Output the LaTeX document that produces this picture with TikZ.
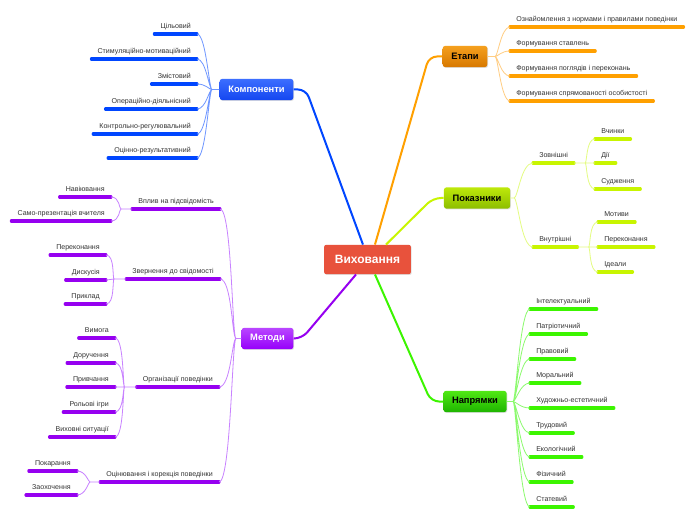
\documentclass[tikz,border=0pt]{standalone}
\usepackage{fontspec}
\setmainfont{Liberation Sans}
\usetikzlibrary{shadows}

\definecolor{rootred}{RGB}{232,82,60}
\definecolor{ktop}{RGB}{60,110,255}
\definecolor{kbot}{RGB}{20,70,240}
\definecolor{etop}{RGB}{245,160,30}
\definecolor{ebot}{RGB}{215,120,0}
\definecolor{ptop}{RGB}{190,232,10}
\definecolor{pbot}{RGB}{140,190,0}
\definecolor{ntop}{RGB}{80,232,20}
\definecolor{nbot}{RGB}{30,180,0}
\definecolor{mtop}{RGB}{185,70,255}
\definecolor{mbot}{RGB}{150,0,250}
\definecolor{kbar}{RGB}{0,70,255}
\definecolor{ktwig}{RGB}{110,150,255}
\definecolor{ebar}{RGB}{255,160,0}
\definecolor{etwig}{RGB}{255,205,130}
\definecolor{pbar}{RGB}{200,245,0}
\definecolor{ptwig}{RGB}{228,252,130}
\definecolor{nbar}{RGB}{60,245,0}
\definecolor{ntwig}{RGB}{140,250,110}
\definecolor{mbar}{RGB}{150,0,240}
\definecolor{mtwig}{RGB}{200,130,255}

\tikzset{
  root/.style={fill=rootred, rounded corners=1.5pt, minimum width=65pt, minimum height=22pt,
    text=white, font=\fontsize{9}{10}\selectfont\bfseries,
    drop shadow={opacity=0.25, shadow xshift=0.6pt, shadow yshift=-0.6pt}},
  branch/.style n args={3}{top color=#1, bottom color=#2, text=#3, rounded corners=2pt,
    minimum height=16pt, inner xsep=6.5pt, font=\fontsize{7}{8}\selectfont\bfseries,
    drop shadow={opacity=0.25, shadow xshift=0.6pt, shadow yshift=-0.6pt}},
  bar/.style={draw=#1, line width=2.3pt, line cap=round},
  leaf/.style={inner xsep=4.5pt, inner ysep=2.2pt, text height=4pt, text depth=1.5pt,
    text=black!80, font=\fontsize{5.3}{6.2}\selectfont,
    append after command={(\tikzlastnode.south west) edge[bar=#1] (\tikzlastnode.south east)}},
  twig/.style={draw=#1, line width=0.6pt},
  trunk/.style={draw=#1, line width=1.5pt, rounded corners=6pt},
}

\begin{document}
\begin{tikzpicture}[x=0.75pt,y=0.75pt,yscale=-1,xscale=1]
        \fill[white] (0,0) rectangle (696,520);
        \useasboundingbox (0,0) rectangle (696,520);

        % Root
        \node[root] (vyh) at (367.5,259.5) {Виховання};

        % Branches
        \node[branch={ktop}{kbot}{white}] (komp) at (256.5,89.5) {Компоненти};
        \node[branch={etop}{ebot}{black}] (etapy) at (465,56.5) {Етапи};
        \node[branch={ptop}{pbot}{black}] (pokaz) at (477,198) {Показники};
        \node[branch={ntop}{nbot}{black}] (napr) at (475,401.5) {Напрямки};
        \node[branch={mtop}{mbot}{white}] (metody) at (267.5,338.5) {Методи};

        % Trunks
        \draw[trunk=kbar] ([xshift=-3.4pt]vyh.north) -- (306,89.5) -- (komp.east);
        \draw[trunk=ebar] ([xshift=5.6pt]vyh.north) -- (429,56.5) -- (etapy.west);
        \draw[trunk=pbar] ([xshift=13.9pt]vyh.north) -- (433,198) -- (pokaz.west);
        \draw[trunk=nbar] ([xshift=5.6pt]vyh.south) -- (431,401.5) -- (napr.west);
        \draw[trunk=mbar] ([xshift=-8.6pt]vyh.south) -- (302,338.5) -- (metody.east);

        % Компоненти
        \node[leaf=kbar, anchor=south east] (k1) at (197,34) {Цільовий};
        \node[leaf=kbar, anchor=south east] (k2) at (197,59) {Стимуляційно-мотиваційний};
        \node[leaf=kbar, anchor=south east] (k3) at (197,84) {Змістовий};
        \node[leaf=kbar, anchor=south east] (k4) at (197,109) {Операційно-діяльнісний};
        \node[leaf=kbar, anchor=south east] (k5) at (197,134) {Контрольно-регулювальний};
        \node[leaf=kbar, anchor=south east] (k6) at (197,158) {Оцінно-результативний};
        \coordinate (kj) at (212,89.5);
        \draw[twig=ktwig] (komp.west) -- (kj)
          (kj) .. controls +(-3,0) and +(9,0) .. (k1.south east)
          (kj) .. controls +(-3,0) and +(9,0) .. (k2.south east)
          (kj) .. controls +(-3,0) and +(9,0) .. (k3.south east)
          (kj) .. controls +(-3,0) and +(9,0) .. (k4.south east)
          (kj) .. controls +(-3,0) and +(9,0) .. (k5.south east)
          (kj) .. controls +(-3,0) and +(9,0) .. (k6.south east);

        % Етапи
        \node[leaf=ebar, anchor=south west] (e1) at (510,27) {Ознайомлення з нормами і правилами поведінки};
        \node[leaf=ebar, anchor=south west] (e2) at (510,51) {Формування ставлень};
        \node[leaf=ebar, anchor=south west] (e3) at (510,76) {Формування поглядів і переконань};
        \node[leaf=ebar, anchor=south west] (e4) at (510,101) {Формування спрямованості особистості};
        \coordinate (ej) at (495,56.5);
        \draw[twig=etwig] (etapy.east) -- (ej)
          (ej) .. controls +(3,0) and +(-9,0) .. (e1.south west)
          (ej) .. controls +(3,0) and +(-9,0) .. (e2.south west)
          (ej) .. controls +(3,0) and +(-9,0) .. (e3.south west)
          (ej) .. controls +(3,0) and +(-9,0) .. (e4.south west);

        % Показники
        \node[leaf=pbar, anchor=south west] (p1) at (533,163) {Зовнішні};
        \node[leaf=pbar, anchor=south west] (p2) at (533,247) {Внутрішні};
        \node[leaf=pbar, anchor=south west] (p11) at (595,139) {Вчинки};
        \node[leaf=pbar, anchor=south west] (p12) at (595,163) {Дії};
        \node[leaf=pbar, anchor=south west] (p13) at (595,189) {Судження};
        \node[leaf=pbar, anchor=south west] (p21) at (598,222) {Мотиви};
        \node[leaf=pbar, anchor=south west] (p22) at (598,247) {Переконання};
        \node[leaf=pbar, anchor=south west] (p23) at (598,272) {Ідеали};
        \coordinate (pj) at (514,198);
        \draw[twig=ptwig] (pokaz.east) -- (pj)
          (pj) .. controls +(4,0) and +(-12,0) .. (p1.south west)
          (pj) .. controls +(4,0) and +(-12,0) .. (p2.south west);
        \draw[twig=ptwig] (p1.south east) -- ++(11,0) coordinate (p1j)
          (p1j) .. controls +(2,0) and +(-9,0) .. (p11.south west)
          (p1j) -- (p12.south west)
          (p1j) .. controls +(2,0) and +(-9,0) .. (p13.south west);
        \draw[twig=ptwig] (p2.south east) -- ++(11,0) coordinate (p2j)
          (p2j) .. controls +(2,0) and +(-9,0) .. (p21.south west)
          (p2j) -- (p22.south west)
          (p2j) .. controls +(2,0) and +(-9,0) .. (p23.south west);

        % Напрямки
        \node[leaf=nbar, anchor=south west] (n1) at (530,309) {Інтелектуальний};
        \node[leaf=nbar, anchor=south west] (n2) at (530,334) {Патріотичний};
        \node[leaf=nbar, anchor=south west] (n3) at (530,359) {Правовий};
        \node[leaf=nbar, anchor=south west] (n4) at (530,383) {Моральний};
        \node[leaf=nbar, anchor=south west] (n5) at (530,408) {Художньо-естетичний};
        \node[leaf=nbar, anchor=south west] (n6) at (530,433) {Трудовий};
        \node[leaf=nbar, anchor=south west] (n7) at (530,457) {Екологічний};
        \node[leaf=nbar, anchor=south west] (n8) at (530,482) {Фізичний};
        \node[leaf=nbar, anchor=south west] (n9) at (530,507) {Статевий};
        \coordinate (nj) at (513,401.5);
        \draw[twig=ntwig] (napr.east) -- (nj)
          (nj) .. controls +(3,0) and +(-10,0) .. (n1.south west)
          (nj) .. controls +(3,0) and +(-10,0) .. (n2.south west)
          (nj) .. controls +(3,0) and +(-10,0) .. (n3.south west)
          (nj) .. controls +(3,0) and +(-10,0) .. (n4.south west)
          (nj) .. controls +(3,0) and +(-10,0) .. (n5.south west)
          (nj) .. controls +(3,0) and +(-10,0) .. (n6.south west)
          (nj) .. controls +(3,0) and +(-10,0) .. (n7.south west)
          (nj) .. controls +(3,0) and +(-10,0) .. (n8.south west)
          (nj) .. controls +(3,0) and +(-10,0) .. (n9.south west);

        % Методи
        \node[leaf=mbar, anchor=south east] (m1) at (220,209) {Вплив на підсвідомість};
        \node[leaf=mbar, anchor=south east] (m2) at (220,279) {Звернення до свідомості};
        \node[leaf=mbar, anchor=south east] (m3) at (219,387) {Організації поведінки};
        \node[leaf=mbar, anchor=south east] (m4) at (219,482) {Оцінювання і корекція поведінки};
        \coordinate (mj) at (236,338.5);
        \draw[twig=mtwig] (metody.west) -- (mj)
          (mj) .. controls +(-4,0) and +(12,0) .. (m1.south east)
          (mj) .. controls +(-4,0) and +(12,0) .. (m2.south east)
          (mj) .. controls +(-4,0) and +(12,0) .. (m3.south east)
          (mj) .. controls +(-4,0) and +(12,0) .. (m4.south east);

        \node[leaf=mbar, anchor=south east] (m11) at (111,197) {Навіювання};
        \node[leaf=mbar, anchor=south east] (m12) at (111,221) {Само-презентація вчителя};
        \draw[twig=mtwig] (m1.south west) -- ++(-11,0) coordinate (m1j)
          (m1j) .. controls +(-2,0) and +(9,0) .. (m11.south east)
          (m1j) .. controls +(-2,0) and +(9,0) .. (m12.south east);

        \node[leaf=mbar, anchor=south east] (m21) at (106,255) {Переконання};
        \node[leaf=mbar, anchor=south east] (m22) at (106,280) {Дискусія};
        \node[leaf=mbar, anchor=south east] (m23) at (106,304) {Приклад};
        \draw[twig=mtwig] (m2.south west) -- ++(-12,0) coordinate (m2j)
          (m2j) .. controls +(-2,0) and +(9,0) .. (m21.south east)
          (m2j) -- (m22.south east)
          (m2j) .. controls +(-2,0) and +(9,0) .. (m23.south east);

        \node[leaf=mbar, anchor=south east] (m31) at (115,338) {Вимога};
        \node[leaf=mbar, anchor=south east] (m32) at (115,363) {Доручення};
        \node[leaf=mbar, anchor=south east] (m33) at (115,387) {Привчання};
        \node[leaf=mbar, anchor=south east] (m34) at (115,412) {Рольові ігри};
        \node[leaf=mbar, anchor=south east] (m35) at (115,437) {Виховні ситуації};
        \draw[twig=mtwig] (m3.south west) -- ++(-12,0) coordinate (m3j)
          (m3j) .. controls +(-2,0) and +(9,0) .. (m31.south east)
          (m3j) .. controls +(-2,0) and +(9,0) .. (m32.south east)
          (m3j) -- (m33.south east)
          (m3j) .. controls +(-2,0) and +(9,0) .. (m34.south east)
          (m3j) .. controls +(-2,0) and +(9,0) .. (m35.south east);

        \node[leaf=mbar, anchor=south east] (m41) at (77,471) {Покарання};
        \node[leaf=mbar, anchor=south east] (m42) at (77,495) {Заохочення};
        \draw[twig=mtwig] (m4.south west) -- ++(-10,0) coordinate (m4j)
          (m4j) .. controls +(-2,0) and +(9,0) .. (m41.south east)
          (m4j) .. controls +(-2,0) and +(9,0) .. (m42.south east);
    \end{tikzpicture}
\end{document}
